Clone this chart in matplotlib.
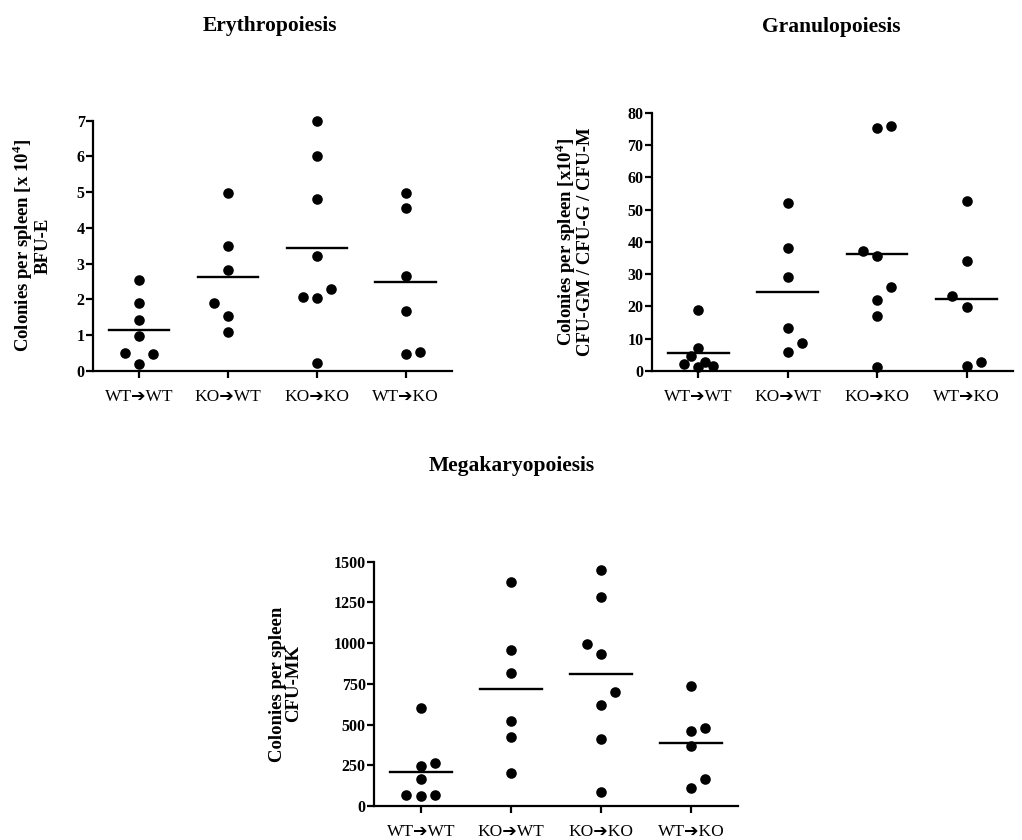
import matplotlib
matplotlib.use('Agg')
import matplotlib.pyplot as plt
import numpy as np

plt.rcParams['font.family'] = ['Liberation Serif', 'DejaVu Sans']
plt.rcParams['mathtext.fontset'] = 'custom'
plt.rcParams['mathtext.rm'] = 'Liberation Serif'
plt.rcParams['mathtext.bf'] = 'Liberation Serif:bold'

groups = ['WT➔WT', 'KO➔WT', 'KO➔KO', 'WT➔KO']

# %% Erythropoiesis, BFU-E [x 10^4]
ery_wt_wt = [2.55, 1.9, 1.42, 0.97, 0.5, 0.48, 0.2]
ery_ko_wt = [4.98, 3.48, 2.83, 1.9, 1.52, 1.07]
ery_ko_ko = [7.0, 6.0, 4.8, 3.2, 2.05, 2.03, 2.28, 0.22]
ery_wt_ko = [4.98, 4.55, 2.65, 1.68, 0.47, 0.53]

# %% Granulopoiesis, CFU-GM / CFU-G / CFU-M [x 10^4]
gra_wt_wt = [18.8, 7.0, 4.6, 2.9, 2.1, 1.5, 1.3]
gra_ko_wt = [52.1, 38.0, 29.0, 13.2, 5.8, 8.6]
gra_ko_ko = [76.0, 75.3, 37.2, 35.7, 26.0, 22.0, 17.1, 1.3]
gra_wt_ko = [52.6, 34.2, 23.3, 19.8, 1.5, 2.8]

# %% Megakaryopoiesis, CFU-MK
meg_wt_wt = [600, 262, 245, 164, 67, 63, 67]
meg_ko_wt = [1377, 957, 814, 524, 421, 200]
meg_ko_ko = [1449, 1285, 992, 935, 700, 618, 411, 88]
meg_wt_ko = [737, 481, 460, 370, 166, 108]

# side-by-side spread of overlapping dots (in dot widths), same order as values
ery_spread = [[0, 0, 0, 0, -1, 1, 0], [0, 0, 0, -1, 0, 0],
              [0, 0, 0, 0, -1, 0, 1, 0], [0, 0, 0, 0, 0, 1]]
gra_spread = [[0, 0, -0.5, 0.5, -1, 1, 0], [0, 0, 0, 0, 0, 1],
              [1, 0, -1, 0, 1, 0, 0, 0], [0, 0, -1, 0, 0, 1]]
meg_spread = [[0, 1, 0, 0, -1, 0, 1], [0, 0, 0, 0, 0, 0],
              [0, 0, -1, 0, 1, 0, 0, 0], [0, 1, 0, 0, 1, 0]]


fig = plt.figure(figsize=(10.22, 8.4), dpi=100)


def panel(rect, data, spread, ymax, ystep, ylabel, label_x):
    ax = fig.add_axes(rect)
    for i, (vals, sp) in enumerate(zip(data, spread)):
        xs = i + 0.16 * np.array(sp)
        ax.scatter(xs, vals, s=58, color='black', linewidths=0,
                   zorder=3, clip_on=False)
        m = np.mean(vals)
        ax.plot([i - 0.34, i + 0.34], [m, m], color='black', lw=1.7, zorder=2)
    ax.set_xlim(-0.52, 3.52)
    ax.set_ylim(0, ymax)
    ax.set_yticks(np.arange(0, ymax + ystep / 2, ystep))
    ax.set_xticks(range(len(groups)))
    ax.set_xticklabels(groups, fontsize=12.5)
    for lab in ax.get_yticklabels():
        lab.set_fontweight('bold')
        lab.set_fontsize(11.5)
    for s in ['top', 'right']:
        ax.spines[s].set_visible(False)
    for s in ['left', 'bottom']:
        ax.spines[s].set_linewidth(1.6)
    ax.tick_params(axis='y', length=5, width=1.6, pad=1)
    ax.tick_params(axis='x', length=5, width=1.6, pad=8)
    ax.set_ylabel(ylabel, fontsize=13.5, fontweight='bold', linespacing=0.95)
    ax.yaxis.set_label_coords(label_x, 0.5)
    return ax


panel([0.091, 0.5587, 0.351, 0.2976],
      [ery_wt_wt, ery_ko_wt, ery_ko_ko, ery_wt_ko], ery_spread, 7, 1,
      'Colonies per spleen [x 10$^{\\mathbf{4}}$]\nBFU-E', -0.115)
panel([0.6377, 0.5583, 0.3535, 0.3075],
      [gra_wt_wt, gra_ko_wt, gra_ko_ko, gra_wt_ko], gra_spread, 80, 10,
      'Colonies per spleen [x10$^{\\mathbf{4}}$]\nCFU-GM / CFU-G / CFU-M', -0.16)
panel([0.366, 0.0405, 0.356, 0.2908],
      [meg_wt_wt, meg_ko_wt, meg_ko_ko, meg_wt_ko], meg_spread, 1500, 250,
      'Colonies per spleen\nCFU-MK', -0.198)

fig.text(0.264, 0.969, 'Erythropoiesis', ha='center', va='center',
         fontsize=15.5, fontweight='bold')
fig.text(0.813, 0.968, 'Granulopoiesis', ha='center', va='center',
         fontsize=15.5, fontweight='bold')
fig.text(0.501, 0.445, 'Megakaryopoiesis', ha='center', va='center',
         fontsize=15.5, fontweight='bold')

fig.savefig('out.png', dpi=100)
